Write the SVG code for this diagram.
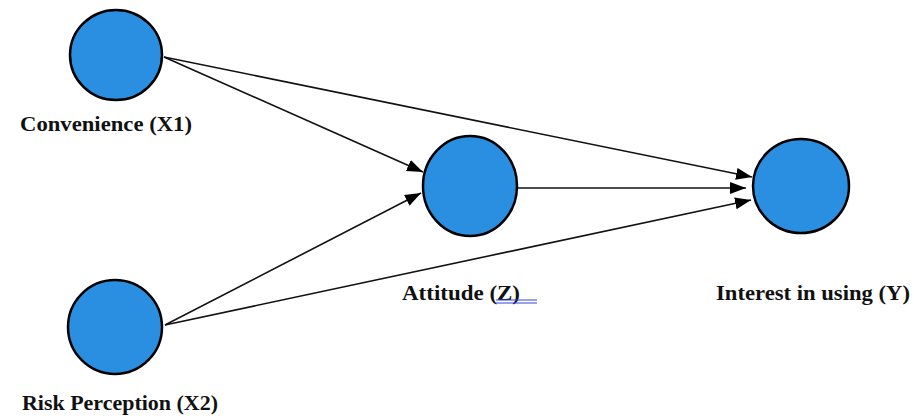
<svg xmlns="http://www.w3.org/2000/svg" width="914" height="416" viewBox="0 0 914 416">
<style>
.node{fill:#2A8FE0;stroke:#000;stroke-width:2.5}
.lbl{font-family:"Liberation Serif","Times New Roman",serif;font-weight:bold;font-size:22px;fill:#111}
.edge{stroke:#111;stroke-width:1.6;fill:none;marker-end:url(#ah)}
</style>
<defs>
<marker id="ah" markerUnits="userSpaceOnUse" markerWidth="16" markerHeight="12" refX="16" refY="6" orient="auto">
<path d="M0,0 L16,6 L0,12 Z" fill="#000"/>
</marker>
</defs>
<rect width="914" height="416" fill="#fff"/>
<g id="edges">
<line class="edge" x1="164" y1="57" x2="423" y2="172"/>
<line class="edge" x1="165" y1="325" x2="421" y2="193"/>
<line class="edge" x1="164" y1="57" x2="752" y2="177"/>
<line class="edge" x1="518" y1="188" x2="746" y2="188"/>
<line class="edge" x1="165" y1="325" x2="751" y2="200"/>
</g>
<g id="x1">
<ellipse class="node" cx="116" cy="55" rx="46" ry="45"/>
<text class="lbl" x="20" y="131" textLength="172" lengthAdjust="spacingAndGlyphs">Convenience (X1)</text>
</g>
<g id="x2">
<ellipse class="node" cx="115" cy="327" rx="47" ry="47"/>
<text class="lbl" x="22" y="410" textLength="196" lengthAdjust="spacingAndGlyphs">Risk Perception (X2)</text>
</g>
<g id="z">
<ellipse class="node" cx="470" cy="186" rx="47" ry="50"/>
<text class="lbl" x="402" y="300" textLength="118" lengthAdjust="spacingAndGlyphs">Attitude (Z)</text>
<line x1="496" y1="300" x2="537" y2="300" stroke="#3344dd" stroke-width="1"/>
<line x1="496" y1="303" x2="537" y2="303" stroke="#3344dd" stroke-width="1"/>
</g>
<g id="y">
<ellipse class="node" cx="801" cy="186" rx="48" ry="47"/>
<text class="lbl" x="716" y="300" textLength="194" lengthAdjust="spacingAndGlyphs">Interest in using (Y)</text>
</g>
</svg>
